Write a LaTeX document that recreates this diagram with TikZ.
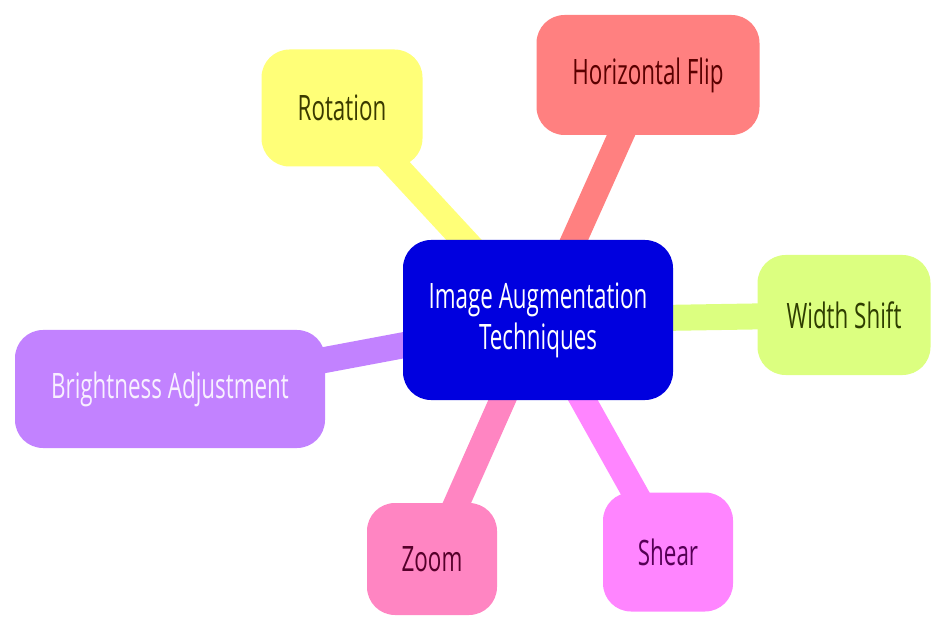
\documentclass[tikz,border=0pt]{standalone}
\usepackage{fontspec}
\setmainfont[FakeStretch=0.64]{Open Sans}
\usetikzlibrary{positioning}
\definecolor{hubblue}{HTML}{0000DF}
\definecolor{rotfill}{HTML}{FFFF78}
\definecolor{rottext}{HTML}{3A3A00}
\definecolor{flipfill}{HTML}{FF8080}
\definecolor{fliptext}{HTML}{5A0000}
\definecolor{widthfill}{HTML}{DCFF80}
\definecolor{widthtext}{HTML}{2E3D00}
\definecolor{brightfill}{HTML}{C282FF}
\definecolor{brighttext}{HTML}{F8F0FF}
\definecolor{zoomfill}{HTML}{FF85C2}
\definecolor{zoomtext}{HTML}{55002A}
\definecolor{shearfill}{HTML}{FF85FF}
\definecolor{sheartext}{HTML}{550055}
\pgfdeclarelayer{bg}
\pgfsetlayers{bg,main}

\begin{document}
\begin{tikzpicture}[x=1pt, y=-1pt, topic/.style={rounded corners=28pt, inner sep=0pt, align=center, font=\fontsize{35}{41}\selectfont}]
        \useasboundingbox (0,0) rectangle (931,617);
        \node[topic, fill=hubblue, text=white, minimum width=270pt, minimum height=160pt] (hub) at (538,320) {Image Augmentation\\Techniques};
        \node[topic, fill=rotfill, text=rottext, minimum width=161pt, minimum height=117pt] (rotation) at (342,108) {Rotation};
        \node[topic, fill=flipfill, text=fliptext, minimum width=223pt, minimum height=120pt] (flip) at (648,75) {Horizontal Flip};
        \node[topic, fill=widthfill, text=widthtext, minimum width=173pt, minimum height=120pt] (width) at (844,315) {Width Shift};
        \node[topic, fill=brightfill, text=brighttext, minimum width=310pt, minimum height=118pt] (bright) at (170,389) {Brightness Adjustment};
        \node[topic, fill=zoomfill, text=zoomtext, minimum width=130pt, minimum height=112pt] (zoom) at (432,559) {Zoom};
        \node[topic, fill=shearfill, text=sheartext, minimum width=130pt, minimum height=119pt] (shear) at (668,552) {Shear};
        \begin{pgfonlayer}{bg}
        \foreach \x/\y in {rotation/rotfill,flip/flipfill,width/widthfill,bright/brightfill,zoom/zoomfill,shear/shearfill}{\draw[line width=26pt, \y] (hub.center) -- (\x.center);}
        \end{pgfonlayer}
      \end{tikzpicture}
\end{document}
